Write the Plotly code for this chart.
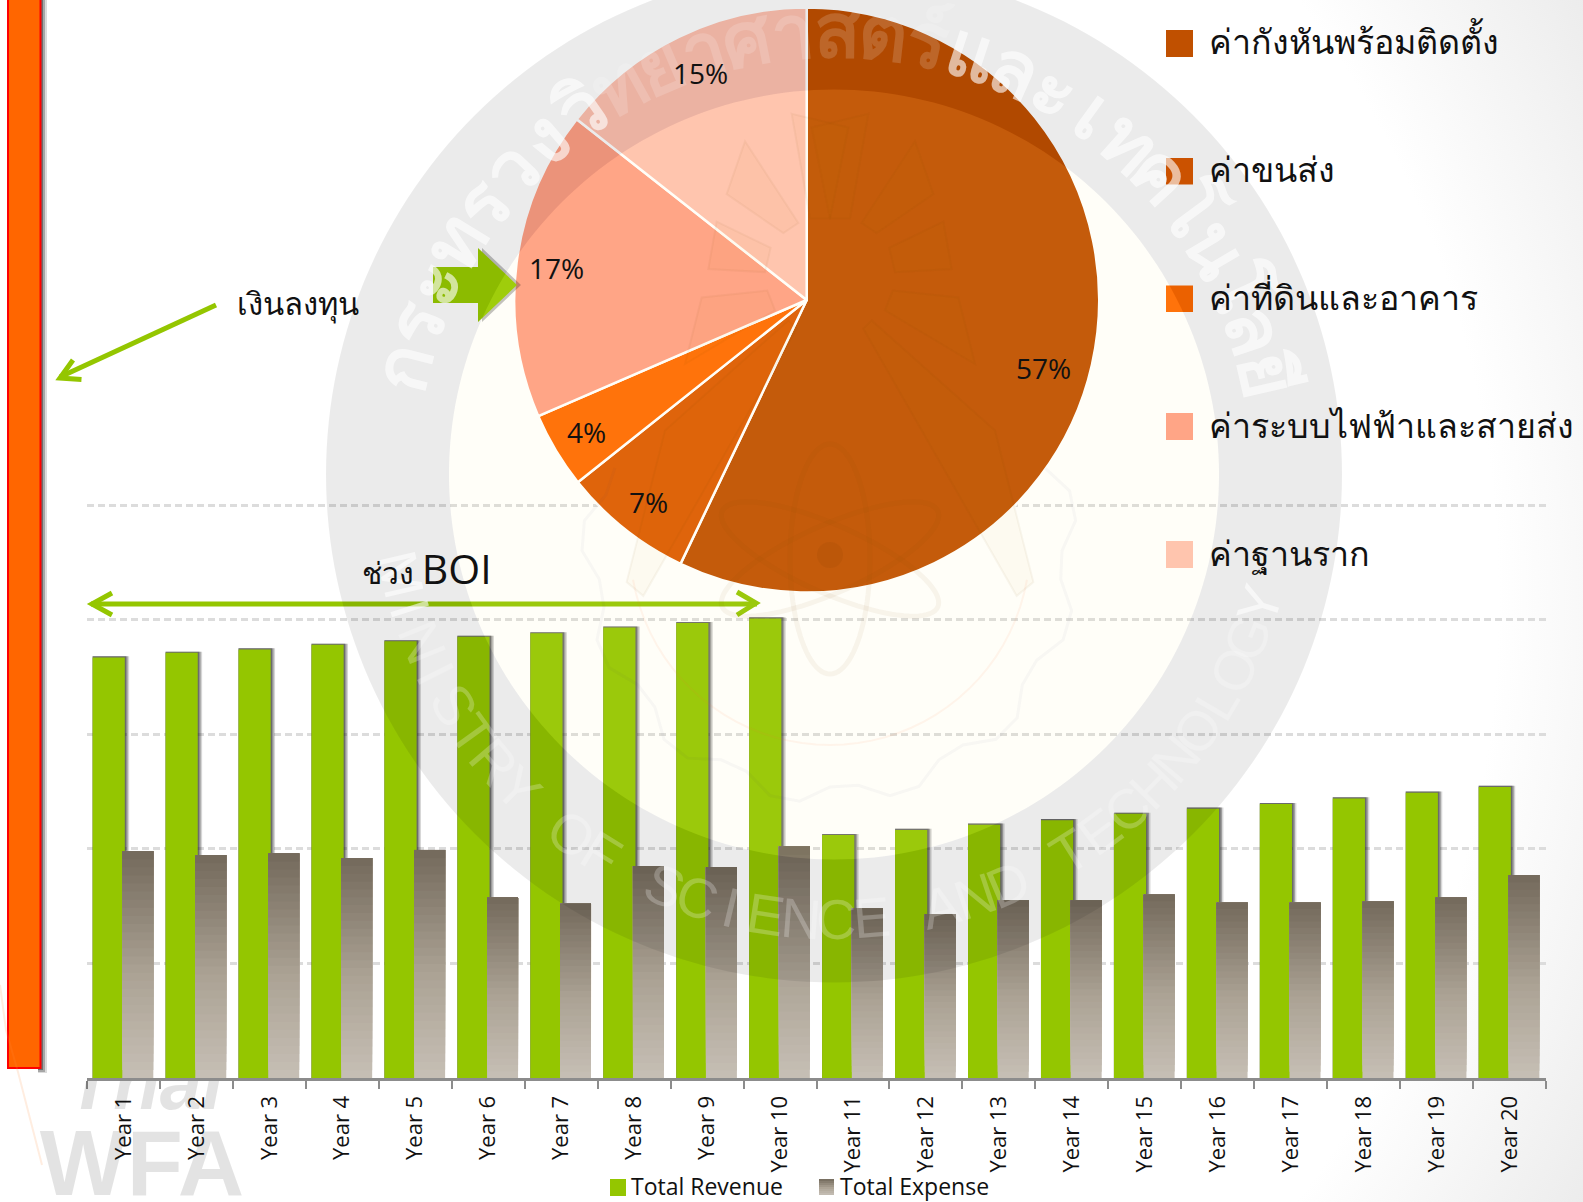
import base64, math
import numpy as np
import plotly.graph_objects as go

W, H = 1583, 1202

# ---- data ----
years = [f"Year {i}" for i in range(1, 21)]
total_revenue = [367, 371, 374, 378, 381, 385, 388, 393, 397, 401,
                 212, 216.5, 221, 225, 230.5, 235, 239, 244, 249, 254]
total_expense = [198, 194.5, 196, 192, 199, 157.5, 152, 185, 184, 202,
                 148, 143, 155, 155, 160, 153, 153, 154, 157.5, 177]
pie_labels = ["ค่ากังหันพร้อมติดตั้ง", "ค่าขนส่ง", "ค่าที่ดินและอาคาร", "ค่าระบบไฟฟ้าและสายส่ง", "ค่าฐานราก"]
pie_values = [57.1, 7.2, 4.2, 17.1, 14.4]
pie_text = ["57%", "7%", "4%", "17%", "15%"]
pie_colors = ["#c05000", "#dd5a00", "#ff6a00", "#ffa085", "#ffc2b0"]

# ---- layout helpers (page pixels -> paper fractions) ----
def PX(x): return x / W
def PY(y): return 1 - y / H
def path(pts, close=True):
    s = "M " + " L ".join(f"{PX(x):.5f} {PY(y):.5f}" for x, y in pts)
    return s + (" Z" if close else "")
def hexmix(stops, t):
    for (a, ca), (b, cb) in zip(stops, stops[1:]):
        if t <= b:
            f = (t - a) / (b - a)
            c = [round(int(ca[i:i+2], 16) * (1 - f) + int(cb[i:i+2], 16) * f) for i in (1, 3, 5)]
            return "#%02x%02x%02x" % tuple(c)
    return stops[-1][1]

AXIS_L, AXIS_R, AXIS_B = 87, 1546, 1078
GRID_PX = 114.6
AXIS_T = AXIS_B - GRID_PX * 5.1
GRAD = [(0, "#c6bfb5"), (0.45, "#aca395"), (1, "#73695b")]
GREEN = "#94c600"
BANDS = 28
G_OFF, G_W, E_OFF, E_W = -0.423, 0.441, -0.016, 0.425

fig = go.Figure()
for extra, alpha in [(0.06, 0.18), (0.04, 0.32), (0.02, 0.38)]:
    fig.add_trace(go.Bar(x=years, y=[v + 1 for v in total_revenue], offset=G_OFF, width=G_W + extra,
                         marker=dict(color=f"rgba(30,30,30,{alpha})", line_width=0),
                         hoverinfo="skip", showlegend=False))
fig.add_trace(go.Bar(x=years, y=total_revenue, name="Total Revenue", offset=G_OFF, width=G_W,
                     marker=dict(color=GREEN, line_width=0), showlegend=False))
ex, ey, eb, ec = [], [], [], []
for k in range(BANDS):
    for yr, v in zip(years, total_expense):
        ex.append(yr); ey.append(v * (BANDS - k) / BANDS); eb.append(v * k / BANDS)
        ec.append(hexmix(GRAD, (k + 0.5) / BANDS))
fig.add_trace(go.Bar(x=ex, y=ey, base=eb, name="Total Expense", offset=E_OFF, width=E_W,
                     marker=dict(color=ec, line_width=0), hoverinfo="skip", showlegend=False))

R = 292.5
fig.add_trace(go.Pie(labels=pie_labels, values=pie_values, sort=False, direction="clockwise", rotation=0,
                     marker=dict(colors=pie_colors, line=dict(color="#ffffff", width=2.5)),
                     textinfo="none", showlegend=False,
                     domain=dict(x=[PX(806.7 - R), PX(806.7 + R)], y=[PY(300 + R), PY(300 - R)])))

# faded logo text at the lower left, clipped to the strip under the axis
fig.add_trace(go.Scatter(x=[145, 142], y=[1090, 1172], mode="text", text=["<b><i>Thai</i></b>", "<b>WFA</b>"],
                         textfont=dict(family="Liberation Sans", size=[76, 92], color="rgba(0,0,0,0.11)"),
                         textposition="middle center", cliponaxis=True, hoverinfo="skip", showlegend=False,
                         xaxis="x2", yaxis="y2"))

shapes, ann = [], []
def rect(x0, x1, y0, y1, fill, line=None, **kw):
    shapes.append(dict(type="rect", xref="paper", yref="paper", x0=PX(x0), x1=PX(x1), y0=PY(y1), y1=PY(y0),
                       fillcolor=fill, line=line or dict(width=0), **kw))
# orange investment block
rect(38, 47, -5, 1073, "rgba(0,0,0,0.14)")
rect(38, 45, -5, 1072, "rgba(0,0,0,0.24)")
rect(38, 43, -5, 1070, "rgba(0,0,0,0.34)")
rect(8, 40.5, -5, 1068, "#ff6600", dict(color="#ff0000", width=2))
# faint orange streak at the lower left
shapes.append(dict(type="path", xref="paper", yref="paper", path=path([(0, 985), (6, 1030), (18, 1072), (42, 1165)], False),
                   line=dict(color="rgba(255,140,60,0.16)", width=2)))

# green arrows
ARROW = "#94c600"
def stroke(pts, w=4):
    shapes.append(dict(type="path", xref="paper", yref="paper", path=path(pts, False), line=dict(color=ARROW, width=w)))
stroke([(216, 305), (60, 377)], 5)
stroke([(73, 360), (60, 378), (81.5, 379.5)], 5)
stroke([(91, 604), (757, 604)], 5)
stroke([(112, 593), (92, 604), (112, 615)], 5)
stroke([(737, 592), (756, 603), (737, 615)], 5)
block = [(433, 267), (478, 267), (478, 248), (517, 285), (478, 322), (478, 303), (433, 303)]
shapes.append(dict(type="path", xref="paper", yref="paper", path=path([(x + 4, y) for x, y in block]),
                   fillcolor="rgba(0,0,0,0.25)", line_width=0))
shapes.append(dict(type="path", xref="paper", yref="paper", path=path(block), fillcolor="#98cb00", line_width=0))

def text(t, x, y, size, anchor="left", family="Noto Sans", color="#111111", angle=0):
    ann.append(dict(text=t, xref="paper", yref="paper", x=PX(x), y=PY(y), xanchor=anchor, yanchor="middle",
                    showarrow=False, textangle=angle, font=dict(size=size, color=color, family=family)))

# legend swatches
legend_rows = [(30, 57), (158, 184.5), (285.5, 312), (413, 440), (541, 568)]
for (y0, y1), c in zip(legend_rows, pie_colors):
    rect(1166, 1193, y0, y1, c)
rect(610, 626, 1179, 1196, GREEN)
for k in range(8):
    rect(819, 834, 1193 - 2 * k, 1195 - 2 * k, hexmix(GRAD, (k + 0.5) / 8))

# watermark: ring, disc, emblem, arc lettering
CX, CY, RO, RI = 834, 474.5, 508, 385
def circ(r, cx=CX, cy=CY, n=240):
    return [(cx + r * math.cos(2 * math.pi * i / n), cy + r * math.sin(2 * math.pi * i / n)) for i in range(n)]
shapes.append(dict(type="path", xref="paper", yref="paper", path=path(circ(RO)) + " " + path(circ(RI)),
                   fillrule="evenodd", fillcolor="rgba(0,0,0,0.08)", line_width=0, layer="above"))
shapes.append(dict(type="path", xref="paper", yref="paper", path=path(circ(RI)),
                   fillcolor="rgba(255,235,150,0.07)", line_width=0, layer="above"))

EX, EY = 620, 100
def Z(X, Y): return (EX + X / 3, EY + Y / 2.178)
rays = [[(575, 60), (745, 30), (690, 258), (630, 258)],
        [(885, 90), (940, 205), (770, 290), (725, 268)],
        [(970, 265), (995, 368), (825, 375), (808, 322)],
        [(1015, 430), (1065, 575), (795, 458), (818, 415)],
        [(755, 480), (730, 498), (1190, 1080), (1240, 1050), (1125, 720)]]
for ray in rays:
    for mir in (False, True):
        pts = [Z(1260 - X if mir else X, Y) for X, Y in ray]
        shapes.append(dict(type="path", xref="paper", yref="paper", path=path(pts),
                           fillcolor="rgba(190,120,0,0.03)", line=dict(color="rgba(110,70,0,0.05)", width=2), layer="above"))
ATOM = (830, 559)
def ell(a, b, deg):
    t = math.radians(deg)
    return [(ATOM[0] + a * math.cos(u) * math.cos(t) - b * math.sin(u) * math.sin(t),
             ATOM[1] + a * math.cos(u) * math.sin(t) + b * math.sin(u) * math.cos(t))
            for u in np.linspace(0, 2 * math.pi, 90, endpoint=False)]
for a, b, d in [(115, 40, 90), (118, 34, 24), (118, 34, -24)]:
    shapes.append(dict(type="path", xref="paper", yref="paper", path=path(ell(a, b, d)),
                       line=dict(color="rgba(130,80,0,0.055)", width=5), layer="above"))
shapes.append(dict(type="circle", xref="paper", yref="paper", x0=PX(817), x1=PX(843), y0=PY(568), y1=PY(542),
                   fillcolor="rgba(120,60,0,0.10)", line_width=0, layer="above"))
# gear outline and inner arc
gear = []
for i, deg in enumerate(np.arange(-112, 113, 7.0)):
    r = 232 if i % 4 < 2 else 248
    t = math.radians(deg)
    gear.append((830 + r * math.sin(t), 555 + r * math.cos(t)))
shapes.append(dict(type="path", xref="paper", yref="paper", path=path(gear, False),
                   line=dict(color="rgba(60,70,110,0.035)", width=3), layer="above"))
arc = [(830 + 200 * math.sin(math.radians(d)), 545 + 200 * math.cos(math.radians(d))) for d in range(-80, 81, 4)]
shapes.append(dict(type="path", xref="paper", yref="paper", path=path(arc, False),
                   line=dict(color="rgba(255,120,60,0.07)", width=2), layer="above"))

PIE_C = (806.7, 300)
th_clusters = ["ก", "ร", "ะ", "ท", "ร", "ว", "ง", "วิ", "ท", "ย", "า", "ศ", "า", "ส", "ต", "ร์", "แ", "ล", "ะ", "เ", "ท", "ค", "โ", "น", "โ", "ล", "ยี"]
for i, ch in enumerate(th_clusters):
    th = -76 + 153 * i / (len(th_clusters) - 1)
    t = math.radians(th)
    x, y = CX + 447 * math.sin(t), CY - 447 * math.cos(t)
    over_pie = math.hypot(x - PIE_C[0], y - PIE_C[1]) < R
    text(f"<b>{ch}</b>", x, y, 76, "center", "Noto Sans", f"rgba(255,255,255,{0.16 if over_pie else 0.62})", th)
en = "MINISTRY OF SCIENCE AND TECHNOLOGY"
for i, ch in enumerate(en):
    ph = 77 - 150 * i / (len(en) - 1)
    t = math.radians(ph)
    x, y = CX - 445 * math.sin(t), CY + 445 * math.cos(t)
    a = 0.24 if y > 615 else 0.6
    text(ch, x, y, 56, "center", "Liberation Sans", f"rgba(255,255,255,{a})", ph)

# readable text goes on top of the watermark lettering
for (y0, y1), t in zip(legend_rows, pie_labels):
    text(t, 1207, (y0 + y1) / 2 - 2, 34)
for x, t in [(629, "Total Revenue"), (838, "Total Expense")]:
    text(t, x, 1186, 23, family="Open Sans")
pie_label_xy = [(1043, 368), (648, 502), (586, 432), (556, 268), (700, 73)]
for (x, y), t in zip(pie_label_xy, pie_text):
    text(t, x, y, 28, "center", "Open Sans")
text("เงินลงทุน", 235, 303, 31)
text("ช่วง <span style='font-size:41px'>BOI</span>", 360, 568, 30, family="Open Sans")

# soft grey vignette towards the right corners
svg = (f"<svg xmlns='http://www.w3.org/2000/svg' width='{W}' height='{H}'>"
       "<defs><radialGradient id='g' gradientUnits='userSpaceOnUse' cx='500' cy='600' r='1280'>"
       "<stop offset='0.78' stop-color='#ffffff'/><stop offset='1' stop-color='#e9e9e9'/></radialGradient></defs>"
       f"<rect width='{W}' height='{H}' fill='url(#g)'/></svg>")
bg = "data:image/svg+xml;base64," + base64.b64encode(svg.encode()).decode()

fig.update_layout(
    width=W, height=H, autosize=False,
    margin=dict(l=0, r=0, t=0, b=0, pad=0),
    paper_bgcolor="white", plot_bgcolor="rgba(0,0,0,0)",
    barmode="overlay", showlegend=False,
    shapes=shapes, annotations=ann,
    images=[dict(source=bg, xref="paper", yref="paper", x=0, y=1, sizex=1, sizey=1, sizing="stretch",
                 xanchor="left", yanchor="top", layer="below")],
    xaxis=dict(domain=[PX(AXIS_L), PX(AXIS_R)], type="category", categoryorder="array", categoryarray=years,
               range=[-0.5, 19.5], tickson="boundaries", ticks="outside", ticklen=8, tickwidth=2, tickcolor="#8c8c8c",
               showline=True, linecolor="#8c8c8c", linewidth=3, showgrid=False, zeroline=False, tickangle=-90,
               ticklabelstandoff=6, tickfont=dict(size=22, family="Open Sans", color="#111111")),
    yaxis=dict(domain=[PY(AXIS_B), PY(AXIS_T)], range=[0, 510], dtick=100, showticklabels=False, ticks="",
               showgrid=True, gridcolor="#dcdcdc", gridwidth=2.5, griddash="7px,4px", zeroline=False, showline=False),
    xaxis2=dict(domain=[0, PX(300)], range=[0, 300], visible=False, anchor="y2"),
    yaxis2=dict(domain=[0, PY(1081)], range=[H, 1081], visible=False, anchor="x2"),
)
fig.write_html("out.html", config=dict(displayModeBar=False),
               post_script="document.body.style.margin='0';document.body.style.overflow='hidden';")
